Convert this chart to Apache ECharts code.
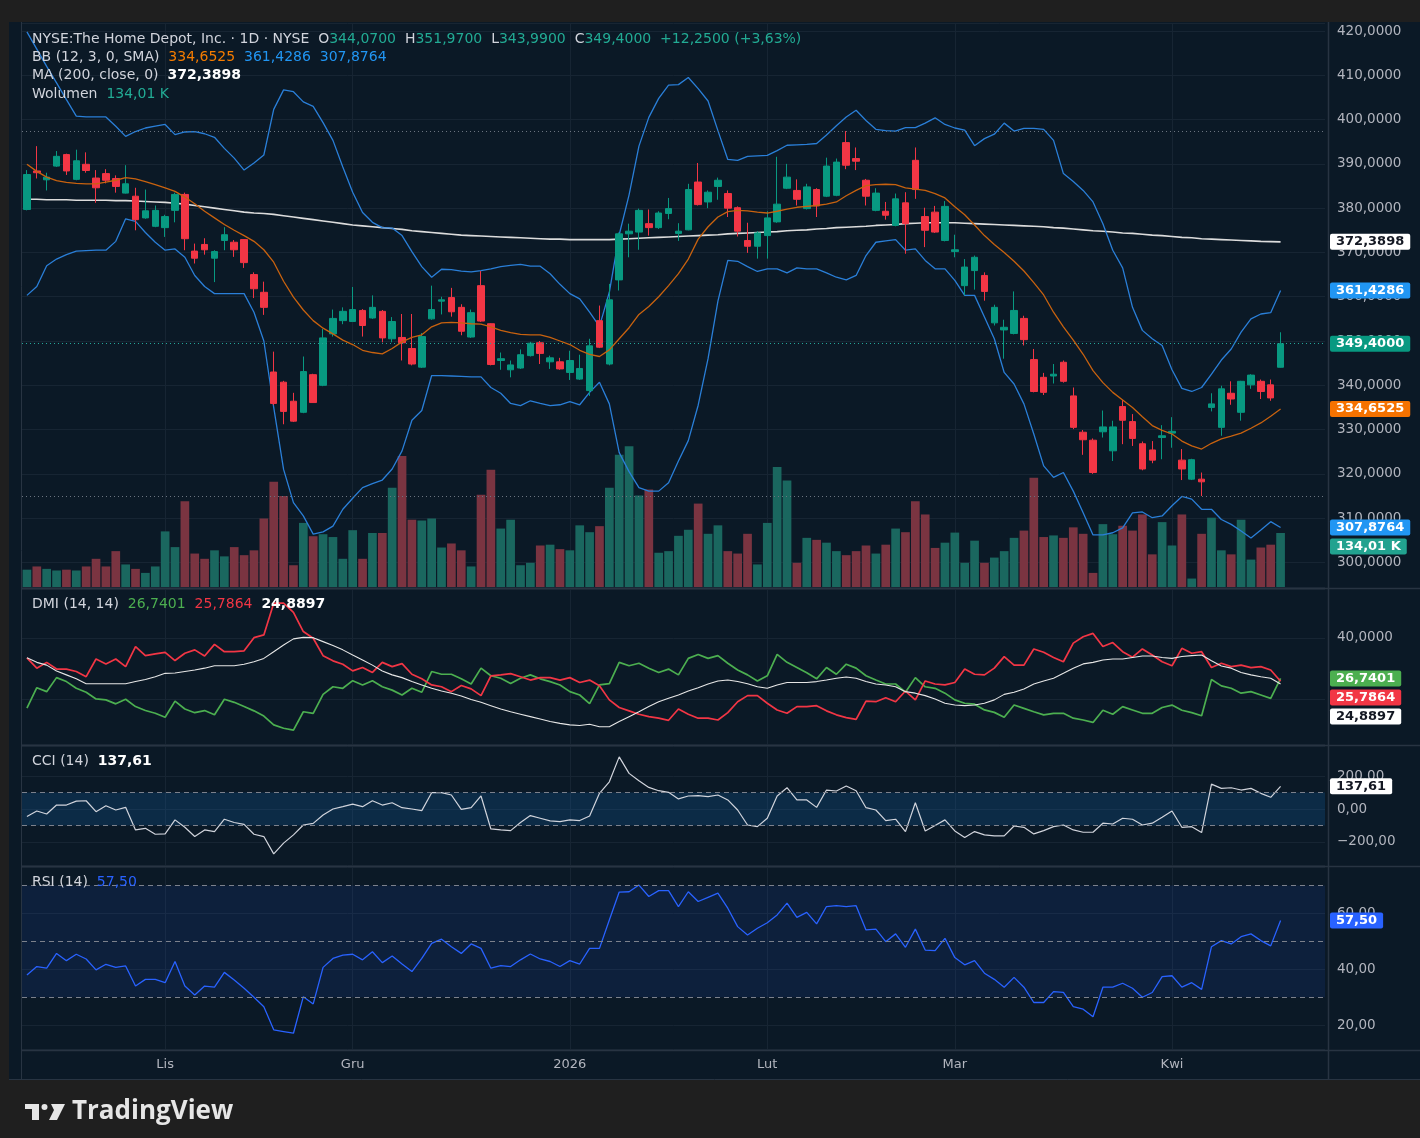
<!DOCTYPE html>
<html><head><meta charset="utf-8">
<script src="https://cdn.jsdelivr.net/npm/echarts@6/dist/echarts.min.js"></script>
<style>html,body{margin:0;padding:0;background:#1f1f1f;}#c{width:1420px;height:1138px;}</style>
</head><body><div id="c"></div>
<script>
const dates = ['2025-10-14','2025-10-15','2025-10-16','2025-10-17','2025-10-20','2025-10-21','2025-10-22','2025-10-23','2025-10-24','2025-10-27','2025-10-28','2025-10-29','2025-10-30','2025-10-31',
'2025-11-03','2025-11-04','2025-11-05','2025-11-06','2025-11-07','2025-11-10','2025-11-11','2025-11-12','2025-11-13','2025-11-14','2025-11-17','2025-11-18','2025-11-19','2025-11-20','2025-11-21','2025-11-24','2025-11-25','2025-11-26','2025-11-28',
'2025-12-01','2025-12-02','2025-12-03','2025-12-04','2025-12-05','2025-12-08','2025-12-09','2025-12-10','2025-12-11','2025-12-12','2025-12-15','2025-12-16','2025-12-17','2025-12-18','2025-12-19','2025-12-22','2025-12-23','2025-12-24','2025-12-26','2025-12-29','2025-12-30','2025-12-31',
'2026-01-02','2026-01-05','2026-01-06','2026-01-07','2026-01-08','2026-01-09','2026-01-12','2026-01-13','2026-01-14','2026-01-15','2026-01-16','2026-01-20','2026-01-21','2026-01-22','2026-01-23','2026-01-26','2026-01-27','2026-01-28','2026-01-29','2026-01-30',
'2026-02-02','2026-02-03','2026-02-04','2026-02-05','2026-02-06','2026-02-09','2026-02-10','2026-02-11','2026-02-12','2026-02-13','2026-02-17','2026-02-18','2026-02-19','2026-02-20','2026-02-23','2026-02-24','2026-02-25','2026-02-26','2026-02-27',
'2026-03-02','2026-03-03','2026-03-04','2026-03-05','2026-03-06','2026-03-09','2026-03-10','2026-03-11','2026-03-12','2026-03-13','2026-03-16','2026-03-17','2026-03-18','2026-03-19','2026-03-20','2026-03-23','2026-03-24','2026-03-25','2026-03-26','2026-03-27','2026-03-30','2026-03-31',
'2026-04-01','2026-04-02','2026-04-06','2026-04-07','2026-04-08','2026-04-09','2026-04-10','2026-04-13','2026-04-14','2026-04-15','2026-04-16','2026-04-17'];
const padDates = ['2026-04-20','2026-04-21','2026-04-22','2026-04-23'];
const monthLabels = {'2025-11-03':'Lis','2025-12-01':'Gru','2026-01-02':'2026','2026-02-02':'Lut','2026-03-02':'Mar','2026-04-01':'Kwi'};

const open = [379.7,388.4,386.4,389.5,392.1,386.5,389.9,386.8,387.8,386.7,383.4,382.7,377.8,375.9,375.6,379.5,383.1,370.3,371.8,368.7,372.7,372.3,372.9,365.0,361.0,343.0,340.7,336.4,333.9,342.4,340.0,351.6,354.6,354.4,356.9,355.2,356.7,350.5,350.8,348.3,344.1,355.0,359.0,359.8,357.6,350.9,362.5,353.9,345.6,343.5,343.9,346.7,349.6,345.3,345.3,342.9,341.4,338.8,354.6,344.8,363.8,374.2,374.6,376.5,375.6,378.8,374.3,375.1,385.9,381.4,384.9,383.3,380.1,372.7,371.4,373.8,376.9,384.5,384.0,379.9,384.2,382.7,382.9,394.8,391.2,386.3,379.5,379.3,376.1,381.2,390.8,378.1,379.1,372.7,370.2,362.5,365.9,364.8,354.1,352.5,351.7,355.1,345.8,341.8,342.1,345.2,337.6,329.4,327.6,329.5,325.2,335.2,331.8,326.8,325.4,328.2,329.2,323.1,318.8,318.8,335.0,330.5,338.2,333.9,340.1,340.9,340.1,344.07];
const high = [388.6,394.0,388.0,392.9,392.3,393.2,392.6,388.6,388.8,387.4,389.7,384.6,384.2,380.6,378.5,383.5,383.5,372.0,373.2,370.5,375.7,372.8,373.0,365.5,363.4,347.6,341.0,338.3,346.5,342.6,352.7,357.1,357.6,362.2,357.2,360.3,357.0,355.4,356.1,356.1,351.8,362.5,360.0,362.0,358.3,357.1,365.8,354.0,347.4,345.6,348.1,349.8,350.0,346.7,346.2,347.8,346.9,350.5,358.0,362.9,374.5,376.5,379.9,379.7,379.3,382.3,376.6,385.5,390.2,384.0,386.9,384.0,380.4,376.7,374.8,379.3,391.6,390.0,386.5,385.5,384.5,391.4,391.2,397.4,393.7,386.6,384.5,381.4,383.3,383.6,393.7,380.1,380.5,381.6,374.0,368.5,369.3,365.5,358.2,354.8,361.2,355.7,348.2,342.8,344.8,345.6,339.5,329.9,328.0,334.3,332.0,336.7,333.5,327.3,327.4,331.0,332.8,325.6,323.4,320.3,338.2,339.9,340.9,341.0,342.5,341.3,341.3,351.97];
const low = [379.5,386.7,384.0,389.3,387.5,386.3,388.0,381.2,385.6,383.5,383.3,375.0,377.6,375.7,373.5,376.8,370.5,367.5,369.5,363.3,370.5,369.0,366.5,359.7,355.9,335.5,331.2,331.7,333.7,336.0,339.8,351.0,353.8,354.3,351.0,355.0,349.7,349.7,345.6,344.5,343.9,354.8,356.0,355.5,351.3,350.7,354.3,344.5,343.5,341.8,343.7,346.5,344.8,343.7,343.5,341.2,341.2,337.6,348.4,344.5,361.4,368.9,370.6,373.8,375.3,377.5,372.6,375.0,380.6,380.0,381.9,378.0,373.6,369.9,368.6,368.6,376.7,384.3,380.6,379.7,378.0,382.5,382.7,388.8,388.6,380.6,379.3,377.4,375.9,369.7,382.1,371.2,374.4,372.5,368.9,360.3,361.6,359.1,353.5,346.0,351.5,349.0,338.4,337.8,340.4,340.6,330.1,324.3,320.0,328.2,322.9,326.7,326.3,320.8,322.4,323.3,325.9,318.6,318.6,315.0,334.1,328.6,335.6,332.0,339.2,336.9,336.5,343.99];
const close = [387.6,388.0,387.0,391.7,388.4,390.7,388.5,384.6,386.3,384.9,385.5,377.4,379.4,379.5,378.1,383.1,373.1,368.7,370.6,370.2,374.0,370.6,367.7,361.8,357.6,335.9,334.1,331.9,343.1,336.1,350.7,355.1,356.7,357.1,353.5,357.6,350.7,354.4,349.6,344.8,351.0,357.1,359.3,356.6,352.2,356.4,354.5,344.7,346.0,344.6,346.9,349.5,347.2,346.2,343.7,345.6,343.8,348.9,348.6,359.3,374.2,374.8,379.5,375.6,378.9,379.9,374.8,384.2,380.8,383.6,386.3,380.0,374.8,371.4,374.4,377.8,380.9,387.0,382.0,384.8,380.5,389.5,390.4,389.7,390.6,382.7,383.4,378.4,382.1,376.5,384.2,375.0,374.6,380.4,370.6,366.7,368.9,361.2,357.6,353.1,356.9,350.3,338.6,338.4,342.5,340.9,330.5,327.7,320.3,330.6,330.6,332.1,328.0,321.1,323.1,328.6,329.6,321.1,323.2,318.2,335.8,339.2,336.9,340.9,342.3,338.6,337.15,349.40];
const volumeK = [43,51,45,41,43,41,51,70,51,89,56,45,35,51,138,99,213,83,70,91,76,99,79,91,170,261,226,54,159,126,131,124,70,141,70,134,134,246,325,167,165,170,98,108,91,51,229,291,145,167,54,60,103,105,94,91,153,136,151,246,328,349,227,242,85,89,127,142,207,132,153,89,83,132,56,159,298,264,60,122,117,110,89,79,89,103,83,105,145,136,213,180,97,110,135,60,115,60,73,89,122,140,271,124,128,122,148,132,35,156,131,152,140,180,81,161,103,180,21,132,172,91,81,167,68,98,105,134.01];
const bbUpper = [419.8,415.9,412.0,408.3,404.5,400.8,400.6,400.6,400.6,398.5,396.2,397.3,398.1,398.5,398.9,396.6,397.2,397.3,396.8,396.0,393.5,391.3,388.6,390.2,392.0,402.3,406.7,406.3,404.0,403.0,399.3,395.3,389.3,383.6,379.0,376.8,375.6,375.5,373.8,370.2,366.8,364.4,366.2,366.1,365.8,365.6,365.9,366.3,366.8,367.1,367.3,366.9,366.9,365.2,362.8,360.7,359.5,356.5,353.3,361.0,374.0,383.0,394.0,400.5,404.8,407.8,407.9,409.5,407.0,404.2,397.5,391.0,390.8,391.7,391.8,391.9,393.0,394.2,394.3,394.4,394.6,396.5,398.6,400.6,402.1,399.8,397.8,397.5,397.4,398.2,398.2,399.2,400.4,398.9,398.1,397.6,394.1,395.7,396.7,399.2,397.4,398.0,398.0,397.8,395.3,387.8,386.0,384.0,381.4,376.5,370.5,366.5,357.6,352.4,350.5,349.0,343.5,339.3,338.6,339.5,342.5,345.7,348.2,352.0,355.0,356.1,356.4,361.4286];
const bbBasis = [389.9,388.3,387.0,386.2,385.8,385.6,385.5,385.5,385.9,386.3,386.9,386.6,386.0,385.3,384.6,383.8,382.5,381.0,379.3,377.8,376.3,375.0,373.8,372.5,370.6,367.8,363.5,359.9,357.0,354.6,352.9,351.6,350.2,349.2,347.9,347.4,347.1,348.3,349.8,350.8,351.4,353.2,354.1,354.2,354.1,353.9,353.8,353.2,352.4,351.9,351.5,351.4,351.4,350.8,350.0,349.2,347.9,347.0,346.5,348.0,350.5,353.0,356.0,357.8,360.0,362.5,365.2,368.5,373.0,375.8,378.0,379.2,379.5,379.4,379.1,378.9,379.3,379.8,380.2,380.4,380.6,380.9,381.4,382.8,384.0,385.1,385.3,385.4,385.3,384.6,384.3,384.0,383.3,382.3,380.3,378.5,376.2,373.8,371.8,370.0,368.0,365.8,363.2,360.4,356.5,353.2,350.2,347.0,343.3,340.6,338.4,336.7,335.0,332.9,330.9,329.8,329.0,327.4,326.3,325.6,326.9,327.9,328.5,329.2,330.3,331.5,333.0,334.6525];
const bbLower = [360.3,362.3,367.0,368.5,369.5,370.3,370.4,370.5,370.5,372.5,377.6,377.0,374.5,372.3,370.5,370.8,368.9,364.8,362.3,360.7,360.7,360.7,360.7,356.5,350.0,335.0,321.0,313.5,310.5,306.4,306.9,308.2,312.0,314.5,316.9,317.8,318.6,321.1,325.2,332.1,334.3,342.2,342.2,342.1,342.0,341.9,341.9,339.5,338.2,335.9,335.4,336.5,335.9,335.4,335.6,336.3,335.6,338.4,340.7,335.8,324.8,320.5,316.9,316.1,316.1,318.0,322.9,327.5,335.5,346.0,359.0,368.2,368.0,366.8,365.7,366.3,366.3,365.4,366.5,366.3,366.3,365.4,364.4,363.8,364.8,369.3,372.3,372.6,372.9,370.5,370.8,368.2,366.3,366.3,363.7,360.3,360.3,355.4,350.5,342.9,340.3,335.8,329.0,321.8,319.2,320.3,316.1,311.2,306.2,306.2,306.7,307.8,311.2,311.4,310.1,310.5,312.8,314.9,314.3,312.0,312.0,309.7,308.6,307.1,305.5,307.3,309.2,307.8764];
const ma200 = [382.0,382.0,381.9,381.9,381.9,381.8,381.8,381.8,381.8,381.7,381.7,381.6,381.5,381.4,381.3,381.1,380.9,380.6,380.3,380.0,379.7,379.4,379.1,378.9,378.8,378.6,378.3,378.0,377.7,377.4,377.1,376.8,376.5,376.2,376.0,375.8,375.6,375.4,375.2,374.9,374.7,374.5,374.3,374.1,373.9,373.8,373.7,373.6,373.5,373.4,373.3,373.2,373.1,373.0,373.0,372.9,372.9,372.9,372.9,372.9,373.0,373.1,373.2,373.3,373.4,373.5,373.6,373.7,373.8,373.9,374.0,374.2,374.3,374.4,374.5,374.6,374.7,374.9,375.0,375.1,375.3,375.4,375.6,375.7,375.8,375.9,376.1,376.2,376.3,376.5,376.6,376.7,376.7,376.7,376.7,376.6,376.5,376.4,376.3,376.2,376.1,376.0,375.9,375.8,375.6,375.5,375.3,375.1,374.9,374.8,374.6,374.4,374.3,374.1,373.9,373.8,373.6,373.4,373.3,373.1,373.0,372.9,372.8,372.7,372.6,372.5,372.45,372.3898];
const plusDI = [17.0,23.7,22.4,27.0,25.7,23.5,22.2,20.0,19.7,18.4,19.9,17.5,16.2,15.3,14.0,19.3,16.7,15.5,16.2,14.8,19.9,18.9,17.5,16.1,14.4,11.5,10.4,9.8,15.8,15.3,21.5,24.0,23.5,26.0,24.6,26.0,24.0,22.9,21.3,23.5,22.2,29.0,28.1,28.1,26.6,24.9,30.1,27.6,26.8,25.1,26.8,27.9,26.6,25.7,24.6,22.4,21.3,18.5,24.6,25.0,32.0,30.9,31.7,30.1,28.7,29.8,27.9,33.3,34.6,33.3,34.2,31.7,29.5,27.9,25.9,27.6,34.6,32.0,30.3,28.6,26.6,30.3,28.1,31.4,30.1,27.6,26.2,24.9,24.9,22.2,27.0,24.0,23.5,21.9,19.7,18.6,18.3,16.4,15.6,14.0,18.0,16.9,15.8,14.8,15.3,15.3,13.7,13.1,12.3,16.3,15.0,17.5,16.4,15.3,15.3,17.2,18.0,16.3,15.5,14.5,26.4,24.3,23.5,21.9,22.4,21.3,20.2,26.7401];
const minusDI = [33.5,30.1,32.0,29.8,29.8,29.0,27.3,33.1,31.5,33.1,30.6,37.2,34.2,34.8,35.3,32.6,35.0,36.1,34.1,37.9,35.5,35.5,35.8,40.1,41.0,51.4,51.4,48.4,42.1,39.9,34.2,32.5,31.4,29.2,30.3,28.7,32.0,30.6,31.6,28.1,26.6,24.6,24.0,22.4,24.4,23.3,21.1,27.6,27.9,28.3,27.3,26.2,27.0,27.0,26.2,27.0,25.4,26.2,24.3,19.7,17.2,16.1,15.0,14.2,13.7,13.0,16.7,15.0,13.7,13.7,13.1,15.5,19.1,21.1,21.1,18.6,16.4,15.3,17.5,17.5,17.8,16.1,14.8,13.9,13.3,19.3,19.1,20.4,19.1,22.6,19.7,25.9,24.9,24.6,25.4,29.8,28.1,27.9,30.1,33.9,31.1,31.1,36.4,35.3,33.6,32.2,38.3,40.4,41.5,37.2,38.5,35.5,33.7,36.4,34.4,32.2,30.9,36.6,35.0,35.5,30.3,31.7,30.6,31.1,30.3,30.6,29.5,25.7864];
const adx = [33.5,32.0,31.1,29.2,27.9,26.6,25.0,25.0,25.0,25.0,25.0,25.7,26.4,27.3,28.4,28.5,29.0,29.5,30.1,30.9,30.9,30.9,31.4,32.2,33.3,35.5,37.7,39.7,40.2,40.1,38.8,37.5,36.1,34.4,32.8,31.1,29.2,27.9,27.0,25.7,24.6,23.5,22.6,21.9,21.0,19.8,18.9,17.8,16.7,15.8,15.0,14.2,13.4,12.6,12.0,11.5,11.3,11.7,10.9,10.9,12.6,14.2,15.8,17.5,19.1,20.2,21.3,22.6,23.7,24.9,25.9,26.2,25.7,25.0,24.0,23.5,24.6,25.4,25.4,25.4,25.7,26.2,26.8,27.2,26.8,25.7,24.9,24.6,24.0,22.4,21.9,21.1,20.0,18.6,18.0,17.8,18.0,18.6,19.7,21.5,22.2,23.3,24.9,25.9,26.8,28.4,30.1,31.5,32.0,32.8,33.1,33.1,33.6,34.1,34.1,33.6,33.3,33.9,34.2,34.4,32.5,30.8,30.1,28.7,27.9,27.3,26.8,24.8897];
const cci = [-45,-12,-30,24,24,48,50,-16,20,-6,10,-127,-117,-153,-151,-66,-111,-167,-127,-137,-62,-82,-93,-153,-167,-272,-207,-157,-97,-87,-36,0,14,30,14,50,24,38,8,0,-10,99,99,85,-2,8,79,-121,-127,-131,-82,-40,-56,-72,-76,-66,-70,-42,95,165,316,216,171,131,111,101,61,79,81,75,85,55,-6,-97,-107,-56,79,129,55,55,10,115,109,139,111,8,-6,-70,-62,-137,38,-133,-100,-66,-133,-173,-137,-157,-163,-163,-103,-111,-151,-131,-107,-97,-127,-141,-141,-86,-91,-56,-62,-97,-86,-50,-12,-111,-107,-143,151,125,129,115,125,95,71,137.61];
const rsi = [38.0,41.0,40.4,45.7,43.1,45.4,43.7,39.8,41.8,40.7,41.2,34.0,36.4,36.4,35.2,42.8,34.0,30.8,34.0,33.6,38.9,36.2,33.2,30.0,26.6,18.3,17.7,17.1,30.2,27.6,40.7,43.9,45.1,45.4,43.4,46.3,42.4,44.8,41.9,39.2,43.9,49.3,50.8,48.1,45.7,49.1,47.5,40.4,41.3,41.0,43.4,45.5,43.7,42.8,41.0,43.1,41.9,47.5,47.5,57.7,67.7,67.8,70.2,66.1,68.2,68.2,62.5,67.8,64.3,65.8,67.3,61.9,55.3,52.3,54.7,56.7,59.5,63.7,58.6,60.4,56.3,62.5,62.8,62.5,62.8,54.1,54.4,49.9,52.7,47.9,54.4,46.9,46.7,51.1,44.2,41.6,43.1,38.6,36.4,33.6,37.1,33.6,28.1,28.1,32.0,31.7,26.6,25.7,23.0,33.6,33.6,35.0,33.2,30.0,31.7,37.4,37.7,33.6,35.2,32.8,48.1,50.3,49.1,51.7,52.7,50.3,48.4,57.50];
const cciBands = [-100, 100];
const rsiLevels = [30, 50, 70];

const FONT = '"DejaVu Sans", "Noto Sans", sans-serif';
const BG = '#0b1926', GRIDC = '#172533', SEP = '#283442', TXT = '#b2b5be';
const UP = '#089981', DOWN = '#f23645';
const fmt = (v, d) => (v < 0 ? '\u2212' : '') + Math.abs(v).toFixed(d).replace('.', ',');
const isMult = (v, s) => Math.abs(v / s - Math.round(v / s)) < 1e-6;
const N = dates.length, last = N - 1;
const xData = dates.concat(padDates);

const L = 22, R = 95;
const grids = [
  {left: L, right: R, top: 23, height: 564},
  {left: L, right: R, top: 425, height: 162},
  {left: L, right: R, top: 589, height: 155},
  {left: L, right: R, top: 746, height: 119},
  {left: L, right: R, top: 867, height: 182}
];
const xAxes = grids.map((g, k) => ({
  gridIndex: k, type: 'category', data: xData, boundaryGap: true,
  axisLine: {show: false}, axisTick: {show: false},
  axisLabel: k === 4 ? {show: true, color: TXT, fontFamily: FONT, fontSize: 13, margin: 9,
    interval: (i, v) => monthLabels[v] !== undefined, formatter: v => monthLabels[v] || ''} : {show: false},
  splitLine: k === 1 ? {show: false} : {show: true, alignWithLabel: true,
    interval: (i, v) => monthLabels[v] !== undefined, lineStyle: {color: GRIDC, width: 1}}
}));
function yAx(k, min, max, step, dec) {
  return {gridIndex: k, position: 'right', min, max, minInterval: step, maxInterval: step, splitNumber: Math.round((max - min) / step),
    axisLine: {show: false}, axisTick: {show: false},
    axisLabel: {color: TXT, fontFamily: FONT, fontSize: 13.5, margin: 12, showMinLabel: false, showMaxLabel: false,
      formatter: v => isMult(v, step) ? fmt(v, dec) : ''},
    splitLine: {show: true, lineStyle: {color: GRIDC, width: 1}}};
}
const yAxes = [
  yAx(0, 294.45, 421.81, 10, 4),
  {gridIndex: 1, min: 0, max: 402, show: false, splitLine: {show: false}},
  yAx(2, 5.23, 56.06, 20, 4),
  yAx(3, -339.5, 382, 200, 2),
  yAx(4, 11.44, 76.67, 20, 2)
];

const maxHigh = Math.max(...high), minLow = Math.min(...low);
const lineS = (name, data, xi, color, width, z) => ({name, type: 'line', xAxisIndex: xi, yAxisIndex: xi, data, symbol: 'none',
  lineStyle: {color, width}, z: z || 3, silent: true, animation: false});

const series = [
  {name: 'Wolumen', type: 'bar', xAxisIndex: 1, yAxisIndex: 1, barCategoryGap: '12%', z: 1, silent: true,
   data: volumeK.map((v, i) => ({value: v, itemStyle: {color: close[i] >= open[i] ? '#1a675f' : '#7a3441'}}))},
  lineS('MA200', ma200, 0, '#dcdcdc', 1.6, 3),
  lineS('BB upper', bbUpper, 0, '#2a7fd8', 1.3, 3),
  lineS('BB lower', bbLower, 0, '#2a7fd8', 1.3, 3),
  {name: 'HD', type: 'candlestick', xAxisIndex: 0, yAxisIndex: 0, barWidth: 7, z: 4, silent: true,
   data: dates.map((d, i) => [open[i], close[i], low[i], high[i]]),
   itemStyle: {color: UP, color0: DOWN, borderColor: UP, borderColor0: DOWN, borderWidth: 1},
   markLine: {silent: true, symbol: ['none', 'none'], label: {show: false}, animation: false,
     data: [
       {yAxis: maxHigh, lineStyle: {color: '#6b7480', type: [1, 3], width: 1}},
       {yAxis: minLow, lineStyle: {color: '#6b7480', type: [1, 3], width: 1}},
       {yAxis: close[last], lineStyle: {color: '#26a69a', type: [1, 3], width: 1}}
     ]}},
  lineS('BB basis', bbBasis, 0, '#c8620f', 1.3, 5),
  lineS('+DI', plusDI, 2, '#4caf50', 1.7),
  lineS('-DI', minusDI, 2, '#f23645', 1.7),
  lineS('ADX', adx, 2, '#e6e6e6', 1.1, 4),
  Object.assign(lineS('CCI', cci, 3, '#d1d4dc', 1.2, 4), {
    markArea: {silent: true, itemStyle: {color: 'rgba(20,115,200,0.2)'}, data: [[{yAxis: cciBands[0]}, {yAxis: cciBands[1]}]]},
    markLine: {silent: true, symbol: ['none', 'none'], label: {show: false}, animation: false,
      lineStyle: {color: '#7c818c', type: [5, 4], width: 1}, data: cciBands.map(v => ({yAxis: v}))}
  }),
  Object.assign(lineS('RSI', rsi, 4, '#2962ff', 1.3, 4), {
    markArea: {silent: true, itemStyle: {color: 'rgba(41,98,255,0.1)'}, data: [[{yAxis: rsiLevels[0]}, {yAxis: rsiLevels[2]}]]},
    markLine: {silent: true, symbol: ['none', 'none'], label: {show: false}, animation: false,
      lineStyle: {color: '#7c818c', type: [5, 4], width: 1}, data: rsiLevels.map(v => ({yAxis: v}))}
  })
];

const chart = echarts.init(document.getElementById('c'), null, {renderer: 'canvas', width: 1420, height: 1138});
chart.setOption({backgroundColor: BG, animation: false, grid: grids, xAxis: xAxes, yAxis: yAxes, series});

// ---------- overlay text & tags ----------
const FS = 14;
const rs = (c, extra) => Object.assign({fill: c, color: c, fontSize: FS, fontFamily: FONT}, extra || {});
const rich = {
  n: rs('#d1d4dc'), v: rs('#22ab94'), o: rs('#f57c00'), b: rs('#2196f3'),
  w: rs('#ffffff', {fontWeight: 'bold'}), g: rs('#4caf50'), r: rs('#f23645'), rb: rs('#2962ff')
};
const chg = close[last] - close[last - 1], pct = chg / close[last - 1] * 100;
const sg = v => (v >= 0 ? '+' : '');
const legends = [
  [39, `{n|NYSE:The Home Depot, Inc. · 1D · NYSE  O}{v|${fmt(open[last],4)}}{n|  H}{v|${fmt(high[last],4)}}{n|  L}{v|${fmt(low[last],4)}}{n|  C}{v|${fmt(close[last],4)}}{v|  ${sg(chg)}${fmt(chg,4)} (${sg(pct)}${fmt(pct,2)}%)}`],
  [57, `{n|BB (12, 3, 0, SMA)  }{o|${fmt(bbBasis[last],4)}}{b|  ${fmt(bbUpper[last],4)}  ${fmt(bbLower[last],4)}}`],
  [75, `{n|MA (200, close, 0)  }{w|${fmt(ma200[last],4)}}`],
  [94, `{n|Wolumen  }{v|${fmt(volumeK[last],2)} K}`],
  [604, `{n|DMI (14, 14)  }{g|${fmt(plusDI[last],4)}}{r|  ${fmt(minusDI[last],4)}}  {w|${fmt(adx[last],4)}}`],
  [761, `{n|CCI (14)  }{w|${fmt(cci[last],2)}}`],
  [882, `{n|RSI (14)  }{rb|${fmt(rsi[last],2)}}`]
];
const gfx = [];
gfx.push({type: 'rect', z: 50, shape: {x: 0, y: 0, width: 1420, height: 22}, style: {fill: '#1f1f1f'}});
gfx.push({type: 'rect', z: 50, shape: {x: 0, y: 0, width: 9, height: 1138}, style: {fill: '#1f1f1f'}});
gfx.push({type: 'rect', z: 50, shape: {x: 0, y: 1080, width: 1420, height: 58}, style: {fill: '#1f1f1f'}});
[588, 745, 866, 1050].forEach(y => gfx.push({type: 'line', z: 40, shape: {x1: 22, y1: y + 0.5, x2: 1420, y2: y + 0.5}, style: {stroke: SEP, lineWidth: 1.5}}));
gfx.push({type: 'line', z: 40, shape: {x1: 1328.5, y1: 22, x2: 1328.5, y2: 1079}, style: {stroke: SEP, lineWidth: 1.5}});
gfx.push({type: 'line', z: 40, shape: {x1: 21.5, y1: 22, x2: 21.5, y2: 1079}, style: {stroke: SEP, lineWidth: 1}});
gfx.push({type: 'line', z: 40, shape: {x1: 9, y1: 1079.5, x2: 1420, y2: 1079.5}, style: {stroke: SEP, lineWidth: 1}});
legends.forEach(([y, t]) => gfx.push({type: 'text', z: 60, x: 32, y, style: {text: t, rich, font: FS + 'px ' + FONT, verticalAlign: 'middle', align: 'left'}}));

function tagsFor(list, gap) {
  list.forEach(t => { t.y = chart.convertToPixel({yAxisIndex: t.axis}, t.v); });
  list.sort((a, b) => a.y - b.y);
  for (let k = 1; k < list.length; k++) if (list[k].y < list[k - 1].y + gap) list[k].y = list[k - 1].y + gap;
  list.forEach(t => gfx.push({type: 'text', z: 70, x: 1330, y: t.y, style: {text: t.text, fill: t.fg, font: 'bold 13px ' + FONT,
    backgroundColor: t.bg, padding: [2, 6, 1, 6], borderRadius: 2, verticalAlign: 'middle', align: 'left'}}));
}
tagsFor([
  {axis: 0, v: ma200[last], text: fmt(ma200[last], 4), bg: '#ffffff', fg: '#131722'},
  {axis: 0, v: bbUpper[last], text: fmt(bbUpper[last], 4), bg: '#2196f3', fg: '#ffffff'},
  {axis: 0, v: close[last], text: fmt(close[last], 4), bg: '#089981', fg: '#ffffff'},
  {axis: 0, v: bbBasis[last], text: fmt(bbBasis[last], 4), bg: '#f57200', fg: '#ffffff'},
  {axis: 0, v: bbLower[last], text: fmt(bbLower[last], 4), bg: '#2196f3', fg: '#ffffff'},
  {axis: 1, v: volumeK[last], text: fmt(volumeK[last], 2) + ' K', bg: '#22a28f', fg: '#ffffff'}
], 19);
tagsFor([
  {axis: 2, v: plusDI[last], text: fmt(plusDI[last], 4), bg: '#4caf50', fg: '#ffffff'},
  {axis: 2, v: minusDI[last], text: fmt(minusDI[last], 4), bg: '#f23645', fg: '#ffffff'},
  {axis: 2, v: adx[last], text: fmt(adx[last], 4), bg: '#ffffff', fg: '#131722'}
], 19);
tagsFor([{axis: 3, v: cci[last], text: fmt(cci[last], 2), bg: '#ffffff', fg: '#131722'}], 19);
tagsFor([{axis: 4, v: rsi[last], text: fmt(rsi[last], 2), bg: '#2962ff', fg: '#ffffff'}], 19);

// TradingView footer logo
gfx.push({type: 'rect', z: 60, shape: {x: 25, y: 1104, width: 14, height: 5}, style: {fill: '#e6e6e6'}});
gfx.push({type: 'rect', z: 60, shape: {x: 32, y: 1104, width: 7, height: 16}, style: {fill: '#e6e6e6'}});
gfx.push({type: 'circle', z: 60, shape: {cx: 44.5, cy: 1107, r: 3}, style: {fill: '#e6e6e6'}});
gfx.push({type: 'polygon', z: 60, shape: {points: [[51, 1104], [65, 1104], [57, 1120], [49, 1120], [54, 1110]]}, style: {fill: '#e6e6e6'}});
gfx.push({type: 'text', z: 60, x: 72, y: 1112, style: {text: 'TradingView', fill: '#e6e6e6', font: 'bold 26px "Open Sans", ' + FONT, verticalAlign: 'middle'}});

chart.setOption({graphic: gfx});
</script></body></html>
